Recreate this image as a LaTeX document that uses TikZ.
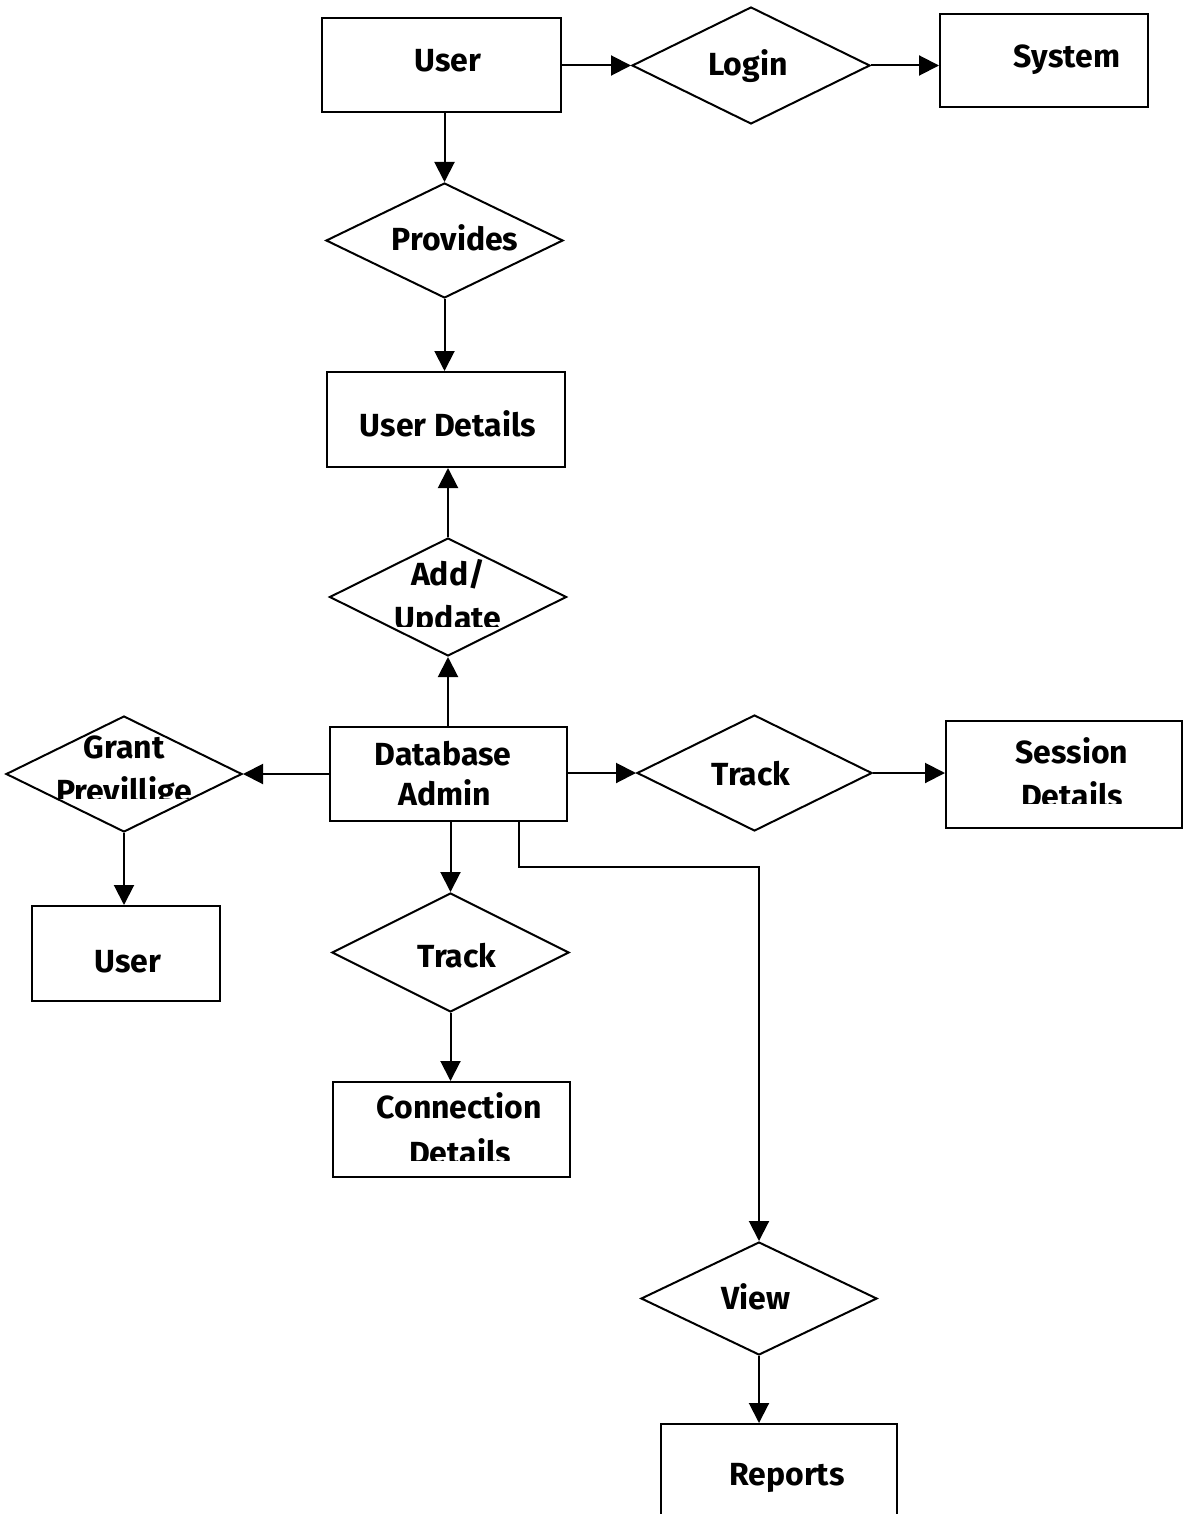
\documentclass[tikz,border=0pt]{standalone}
\usepackage{fontspec}
\setmainfont{Fira Sans}
\usetikzlibrary{shapes.geometric,arrows.meta}
\begin{document}
\begin{tikzpicture}[x=1pt,y=-1pt,
  ent/.style={draw, line width=2pt, rectangle, inner sep=0pt},
  rel/.style={draw, line width=2pt, diamond, inner sep=0pt},
  lbl/.style={font=\fontsize{32}{38}\selectfont\bfseries, anchor=base, inner sep=0pt},
  arr/.style={line width=2pt, -{Triangle[length=20pt,width=20pt]}},
]
\useasboundingbox (0,0) rectangle (1184,1514);
\clip (0,0) rectangle (1184,1514);

% entities
\node[ent, minimum width=239pt, minimum height=94pt]  (user)    at (441.5,65)    {};
\node[ent, minimum width=208pt, minimum height=93pt]  (system)  at (1044,60.5)   {};
\node[ent, minimum width=238pt, minimum height=95pt]  (userdet) at (446,419.5)   {};
\node[ent, minimum width=237pt, minimum height=94pt]  (dba)     at (448.5,774)   {};
\node[ent, minimum width=188pt, minimum height=95pt]  (user2)   at (126,953.5)   {};
\node[ent, minimum width=236pt, minimum height=107pt] (session) at (1064,774.5)  {};
\node[ent, minimum width=237pt, minimum height=95pt]  (conn)    at (451.5,1129.5) {};
\node[ent, minimum width=236pt, minimum height=150pt] (reports) at (779,1499)    {};

% relationships
\node[rel, minimum width=238pt, minimum height=117pt] (login)    at (751,65.5)    {};
\node[rel, minimum width=237pt, minimum height=115pt] (provides) at (444.5,240.5) {};
\node[rel, minimum width=237pt, minimum height=118pt] (addupd)   at (448,597)     {};
\node[rel, minimum width=236pt, minimum height=116pt] (grant)    at (124,774)     {};
\node[rel, minimum width=235pt, minimum height=116pt] (track1)   at (754.5,773)   {};
\node[rel, minimum width=237pt, minimum height=119pt] (track2)   at (450.5,952.5) {};
\node[rel, minimum width=236pt, minimum height=113pt] (view)     at (759,1298.5)  {};

% labels
\node[lbl] (tUser)     at (448,72)    {User};
\node[lbl] (tLogin)    at (748,76)    {Login};
\node[lbl] (tSystem)   at (1067,68)   {System};
\node[lbl] (tProvides) at (455,251)   {Provides};
\node[lbl] (tUserDet)  at (448,436)   {User Details};
\node[lbl] (tAdd)      at (448,585)   {Add/};
\node[lbl] (tGrant)    at (124,758)   {Grant};
\node[lbl] (tDatabase) at (443,765)   {Database};
\node[lbl] (tAdmin)    at (445,805)   {Admin};
\node[lbl] (tTrackA)   at (751,785)   {Track};
\node[lbl] (tSession)  at (1072,763)  {Session};
\node[lbl] (tUser2)    at (128,972)   {User};
\node[lbl] (tTrackB)   at (457,967)   {Track};
\node[lbl] (tConn)     at (459,1118)  {Connection};
\node[lbl] (tView)     at (756,1309)  {View};
\node[lbl] (tReports)  at (787,1485)  {Reports};

% second lines, cut short at the bottom
\begin{scope}
  \clip (330,600) rectangle (566,626);
  \node[lbl] (tUpdate) at (448,629) {Update};
\end{scope}
\begin{scope}
  \clip (6,770) rectangle (242,798);
  \node[lbl] (tPriv) at (124,802) {Previllige};
\end{scope}
\begin{scope}
  \clip (946,775) rectangle (1182,803);
  \node[lbl] (tSesDet) at (1072,807) {Details};
\end{scope}
\begin{scope}
  \clip (333,1130) rectangle (570,1160);
  \node[lbl] (tConnDet) at (460,1164) {Details};
\end{scope}

% connectors
\coordinate (bend) at (519,867);
\draw[arr] (user.east |- login.west) -- (login.west);
\draw[arr] (login.east) -- (login.east -| system.west);
\draw[arr] (user.south -| provides.north) -- (provides.north);
\draw[arr] (provides.south) -- (provides.south |- userdet.north);
\draw[arr] (addupd.north) -- (addupd.north |- userdet.south);
\draw[arr] (addupd.south |- dba.north) -- (addupd.south);
\draw[arr] (dba.west) -- (grant.east);
\draw[arr] (grant.south) -- (grant.south |- user2.north);
\draw[arr] (track1.west -| dba.east) -- (track1.west);
\draw[arr] (track1.east) -- (track1.east -| session.west);
\draw[arr] (dba.south -| track2.north) -- (track2.north);
\draw[arr] (track2.south) -- (track2.south |- conn.north);
\draw[arr] (dba.south -| bend) -- (bend) -| (view.north);
\draw[arr] (view.south) -- (view.south |- reports.north);
\end{tikzpicture}
\end{document}
